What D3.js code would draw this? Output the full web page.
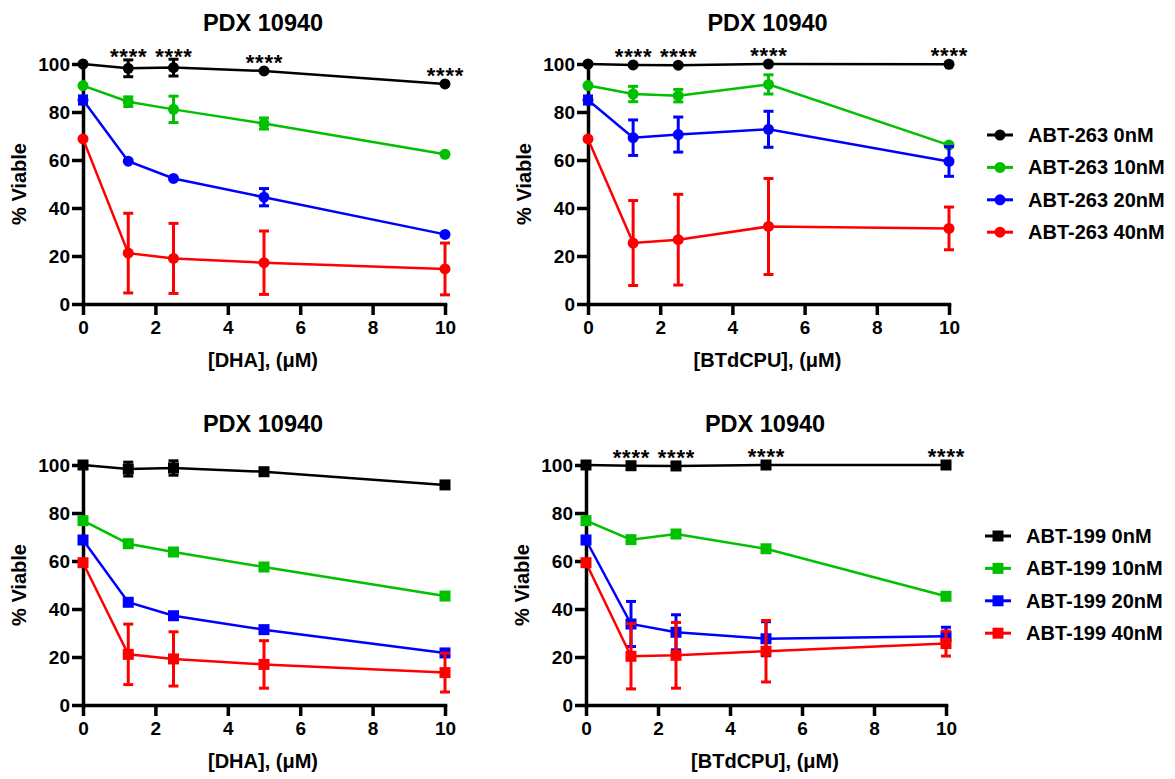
<!DOCTYPE html>
<html>
<head>
<meta charset="utf-8">
<script src="https://cdn.jsdelivr.net/npm/d3@7"></script>
<style>
  html, body { margin: 0; padding: 0; background: #fff; }
  svg text { font-family: Arial, "Liberation Sans", Helvetica, sans-serif; font-weight: bold; fill: #000; }
</style>
</head>
<body>
<svg id="chart" width="1175" height="779"></svg>
<script>
// Doses (µM) and axis ticks
const doses = [0, 1.25, 2.5, 5, 10];
const xTicks = [0, 2, 4, 6, 8, 10];
const yTicks = [0, 20, 40, 60, 80, 100];
const chartTitle = "PDX 10940";
const yTitle = "% Viable";
const starLabel = "****";
const starDoses = [1.25, 2.5, 5, 10];

// Series names and colours (0, 10, 20, 40 nM)
const names263 = ["ABT-263 0nM", "ABT-263 10nM", "ABT-263 20nM", "ABT-263 40nM"];
const names199 = ["ABT-199 0nM", "ABT-199 10nM", "ABT-199 20nM", "ABT-199 40nM"];
const seriesColors = ["#000000", "#00c000", "#0000ff", "#ff0000"];

// DHA + ABT-263: means and SD per series
const dha263Mean = [
  [100, 98.2, 98.5, 97.1, 91.7],
  [91.0, 84.3, 81.1, 75.2, 62.4],
  [85.0, 59.5, 52.3, 44.5, 29.0],
  [68.8, 21.2, 19.0, 17.2, 14.6]
];
const dha263Err = [
  [0, 3.5, 3.5, 0, 0],
  [0, 2.0, 5.5, 2.3, 0],
  [1.7, 0, 0, 3.6, 0],
  [0, 16.6, 14.6, 13.2, 10.8]
];

// BTdCPU + ABT-263
const bt263Mean = [
  [100, 99.6, 99.5, 100, 99.9],
  [91.0, 87.5, 86.8, 91.5, 66.2],
  [85.0, 69.3, 70.6, 72.8, 59.4],
  [68.8, 25.4, 26.8, 32.3, 31.5]
];
const bt263Err = [
  [0, 0, 0, 0, 0],
  [0, 3.2, 2.6, 4.0, 0],
  [1.7, 7.4, 7.3, 7.5, 6.2],
  [0, 17.7, 18.9, 20.0, 8.9]
];

// DHA + ABT-199
const dha199Mean = [
  [100, 98.3, 98.75, 97.2, 91.7],
  [76.8, 67.2, 63.75, 57.5, 45.4],
  [68.75, 42.8, 37.2, 31.4, 21.7],
  [59.3, 21.1, 19.2, 16.9, 13.5]
];
const dha199Err = [
  [0, 2.9, 3.0, 0, 0],
  [0, 0, 0, 0, 0],
  [0, 0, 0, 0, 0],
  [0, 12.6, 11.3, 9.9, 8.1]
];

// BTdCPU + ABT-199
const bt199Mean = [
  [100, 99.7, 99.6, 100, 100],
  [76.8, 68.9, 71.25, 65.1, 45.3],
  [68.75, 33.75, 30.3, 27.6, 28.6],
  [59.3, 20.3, 20.7, 22.4, 25.6]
];
const bt199Err = [
  [0, 0, 0, 0, 0],
  [0, 0, 0, 0, 0],
  [0, 9.4, 7.3, 7.1, 3.8],
  [0, 13.6, 13.7, 12.8, 5.2]
];

const svg = d3.select("#chart");

// Panel layout: plot box edges in page pixels
const panels = [
  { left: 83, right: 445, top: 64, bottom: 304, xTitle: "[DHA], (μM)", means: dha263Mean, errs: dha263Err, symbol: d3.symbolCircle, stars: true },
  { left: 588, right: 949, top: 64, bottom: 304, xTitle: "[BTdCPU], (μM)", means: bt263Mean, errs: bt263Err, symbol: d3.symbolCircle, stars: true },
  { left: 83, right: 445, top: 465, bottom: 705, xTitle: "[DHA], (μM)", means: dha199Mean, errs: dha199Err, symbol: d3.symbolSquare, stars: false },
  { left: 586, right: 946, top: 465, bottom: 705, xTitle: "[BTdCPU], (μM)", means: bt199Mean, errs: bt199Err, symbol: d3.symbolSquare, stars: true }
];

const circleArea = Math.PI * 5.5 * 5.5;
const squareArea = 11 * 11;

function drawPanel(p) {
  const g = svg.append("g");
  const x = d3.scaleLinear().domain([0, 10]).range([p.left, p.right]);
  const y = d3.scaleLinear().domain([0, 100]).range([p.bottom, p.top]);
  const symSize = p.symbol === d3.symbolCircle ? circleArea : squareArea;

  // Title
  g.append("text")
    .attr("x", (p.left + p.right) / 2 - 1)
    .attr("y", p.top - 33)
    .attr("text-anchor", "middle")
    .style("font-size", "23.5px")
    .text(chartTitle);

  // Axes
  const yAxis = d3.axisLeft(y).tickValues(yTicks).tickSize(11).tickPadding(2).tickSizeOuter(0);
  const xAxis = d3.axisBottom(x).tickValues(xTicks).tickSize(11).tickPadding(6).tickSizeOuter(0);

  const gy = g.append("g").attr("transform", `translate(${p.left},0)`).call(yAxis);
  const gx = g.append("g").attr("transform", `translate(0,${p.bottom})`).call(xAxis);
  [gx, gy].forEach(a => {
    a.select(".domain").attr("stroke", "#000").attr("stroke-width", 3.5).attr("stroke-linecap", "square");
    a.selectAll(".tick line").attr("stroke", "#000").attr("stroke-width", 3.5);
    a.selectAll(".tick text")
      .style("font-family", "Arial, 'Liberation Sans', sans-serif")
      .style("font-weight", "bold")
      .style("font-size", "19px")
      .attr("fill", "#000");
  });

  // Axis titles
  g.append("text")
    .attr("x", (p.left + p.right) / 2 - 1)
    .attr("y", p.bottom + 62.5)
    .attr("text-anchor", "middle")
    .style("font-size", "20px")
    .text(p.xTitle);
  g.append("text")
    .attr("transform", `translate(${p.left - 57},${(p.top + p.bottom) / 2}) rotate(-90)`)
    .attr("text-anchor", "middle")
    .style("font-size", "20px")
    .text(yTitle);

  // Series
  const line = d3.line().x(d => x(d.dose)).y(d => y(d.v));
  p.means.forEach((vals, si) => {
    const color = seriesColors[si];
    const pts = doses.map((dose, i) => ({ dose, v: vals[i], e: p.errs[si][i] }));
    const sg = g.append("g");
    sg.append("path").datum(pts)
      .attr("d", line)
      .attr("fill", "none")
      .attr("stroke", color)
      .attr("stroke-width", 2.5);

    const eb = sg.selectAll(".err").data(pts.filter(d => d.e > 0)).enter().append("g");
    eb.append("line")
      .attr("x1", d => x(d.dose)).attr("x2", d => x(d.dose))
      .attr("y1", d => y(d.v - d.e)).attr("y2", d => y(d.v + d.e))
      .attr("stroke", color).attr("stroke-width", 3);
    [-1, 1].forEach(sgn => {
      eb.append("line")
        .attr("x1", d => x(d.dose) - 5).attr("x2", d => x(d.dose) + 5)
        .attr("y1", d => y(d.v + sgn * d.e)).attr("y2", d => y(d.v + sgn * d.e))
        .attr("stroke", color).attr("stroke-width", 3);
    });

    sg.selectAll(".pt").data(pts).enter().append("path")
      .attr("transform", d => `translate(${x(d.dose)},${y(d.v)})`)
      .attr("d", d3.symbol().type(p.symbol).size(symSize))
      .attr("fill", color);
  });

  // Significance marks above the 0 nM series
  if (p.stars) {
    const ref = p.means[0];
    const refErr = p.errs[0];
    starDoses.forEach(dose => {
      const i = doses.indexOf(dose);
      const topPx = Math.min(y(ref[i] + refErr[i]), y(ref[i]) - 5.5);
      g.append("text")
        .attr("x", x(dose) + 0.4)
        .attr("y", topPx + 4.5)
        .attr("text-anchor", "middle")
        .style("font-size", "22px")
        .style("letter-spacing", "0.8px")
        .text(starLabel);
    });
  }
}

panels.forEach(drawPanel);

// Legends
function drawLegend(names, symbol, x0, y0) {
  const lg = svg.append("g").attr("transform", `translate(${x0},${y0})`);
  const size = symbol === d3.symbolCircle ? circleArea : squareArea;
  names.forEach((name, i) => {
    const row = lg.append("g").attr("transform", `translate(0,${i * 32.4})`);
    row.append("line").attr("x1", 0).attr("x2", 26).attr("y1", 0).attr("y2", 0)
      .attr("stroke", seriesColors[i]).attr("stroke-width", 3);
    row.append("path").attr("transform", "translate(13,0)")
      .attr("d", d3.symbol().type(symbol).size(size))
      .attr("fill", seriesColors[i]);
    row.append("text").attr("x", 41).attr("y", 7).style("font-size", "20px").text(name);
  });
}
drawLegend(names263, d3.symbolCircle, 987, 135);
drawLegend(names199, d3.symbolSquare, 985, 536);
</script>
</body>
</html>
